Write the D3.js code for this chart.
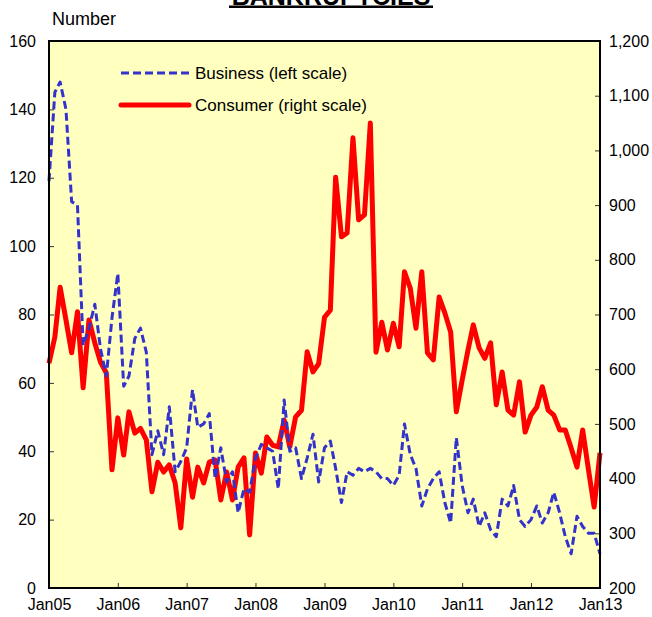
<!DOCTYPE html>
<html>
<head>
<meta charset="utf-8">
<script src="https://cdn.jsdelivr.net/npm/d3@7"></script>
<style>
  body { margin: 0; background: #fff; }
  svg { display: block; font-family: "Liberation Sans", Arial, sans-serif; }
</style>
</head>
<body>
<div id="chart"></div>
<script>
// monthly, Jan05 .. Jan13
const startMonth = new Date(2005, 0, 1);
const business = [119,145,148,140,113,112,71,76,83,70,62,79,92,59,62,73,76,69,39,46,39,53,34,37,
  41,58,47,48,51,32,41,31,34,22,29,28,38,42,41,40,29,55,40,41,32,38,45,31,
  41,43,35,25,34,33,35,34,35,34,32,32,30,33,48,39,35,24,29,32,34,25,19,44,
  30,22,26,18,22,17,15,26,24,30,20,18,20,24,19,22,28,22,15,10,21,18,16,16,10];
const consumer = [611,659,750,690,630,705,566,690,648,613,593,416,511,443,522,483,492,471,376,430,412,425,392,310,
  436,366,421,392,430,434,361,412,361,421,438,297,447,410,476,461,458,507,458,513,525,632,595,610,
  695,708,951,842,849,1023,873,882,1050,631,686,635,684,641,778,748,675,778,630,617,732,703,668,522,
  580,635,681,639,620,648,535,595,525,516,577,485,516,531,568,525,516,489,489,456,421,489,416,348,447];
const yearLabels = ["Jan05","Jan06","Jan07","Jan08","Jan09","Jan10","Jan11","Jan12","Jan13"];
const leftTicks = [0,20,40,60,80,100,120,140,160];
const rightTicks = [200,300,400,500,600,700,800,900,1000,1100,1200];

const W = 652, H = 617;
const margin = { top: 41, right: 52, bottom: 29, left: 49 };
const iw = W - margin.left - margin.right;
const ih = H - margin.top - margin.bottom;

const dates = business.map((_, i) => d3.timeMonth.offset(startMonth, i));

const x = d3.scaleTime().domain([dates[0], dates[dates.length - 1]]).range([0, iw]);
const yL = d3.scaleLinear().domain([0, 160]).range([ih, 0]);
const yR = d3.scaleLinear().domain([200, 1200]).range([ih, 0]);

const svg = d3.select("#chart").append("svg")
  .attr("width", W).attr("height", H);

// title, mostly cut off at the top like in the source
svg.append("text")
  .attr("x", 331).attr("y", 5)
  .attr("text-anchor", "middle")
  .attr("font-size", 25).attr("font-weight", "bold")
  .text("BANKRUPTCIES");
svg.append("rect").attr("x", 229).attr("y", 5.5).attr("width", 204).attr("height", 2.5).attr("fill", "#000");

svg.append("text")
  .attr("x", 52).attr("y", 25)
  .attr("font-size", 18)
  .text("Number");

const g = svg.append("g").attr("transform", `translate(${margin.left},${margin.top})`);

g.append("rect").attr("width", iw).attr("height", ih).attr("fill", "#ffffc0");

// axes with inward ticks
const axL = g.append("g")
  .call(d3.axisLeft(yL).tickValues(leftTicks).tickSize(-5).tickPadding(13));
const axR = g.append("g").attr("transform", `translate(${iw},0)`)
  .call(d3.axisRight(yR).tickValues(rightTicks).tickSize(-5).tickPadding(9).tickFormat(d3.format(",")));
const axB = g.append("g").attr("transform", `translate(0,${ih})`)
  .call(d3.axisBottom(x)
    .tickValues(yearLabels.map((_, i) => d3.timeYear.offset(startMonth, i)))
    .tickFormat((d, i) => yearLabels[i])
    .tickSize(-5).tickPadding(11));

[axL, axR, axB].forEach(a => {
  a.select(".domain").remove();
  a.selectAll("line").attr("stroke", "#333");
  a.selectAll("text").attr("font-size", 16).attr("fill", "#000")
    .attr("font-family", "'Liberation Sans', Arial, sans-serif");
});

const lineB = d3.line().x((d, i) => x(dates[i])).y(d => yL(d));
const lineC = d3.line().x((d, i) => x(dates[i])).y(d => yR(d));

g.append("path").datum(consumer)
  .attr("d", lineC).attr("fill", "none")
  .attr("stroke", "#ff0000").attr("stroke-width", 5).attr("stroke-linejoin", "round");

g.append("path").datum(business)
  .attr("d", lineB).attr("fill", "none")
  .attr("stroke", "#3333cc").attr("stroke-width", 3)
  .attr("stroke-dasharray", "8,4").attr("stroke-linejoin", "round");

// plot border
g.append("rect").attr("width", iw).attr("height", ih)
  .attr("fill", "none").attr("stroke", "#000").attr("stroke-width", 2);

// legend
const lg = svg.append("g");
lg.append("line").attr("x1", 121).attr("x2", 189).attr("y1", 73).attr("y2", 73)
  .attr("stroke", "#3333cc").attr("stroke-width", 3).attr("stroke-dasharray", "8,4");
lg.append("text").attr("x", 195).attr("y", 79).attr("font-size", 17).text("Business (left scale)");
lg.append("line").attr("x1", 121).attr("x2", 189).attr("y1", 105).attr("y2", 105)
  .attr("stroke", "#ff0000").attr("stroke-width", 5).attr("stroke-linecap", "round");
lg.append("text").attr("x", 195).attr("y", 111).attr("font-size", 17).text("Consumer (right scale)");
</script>
</body>
</html>
